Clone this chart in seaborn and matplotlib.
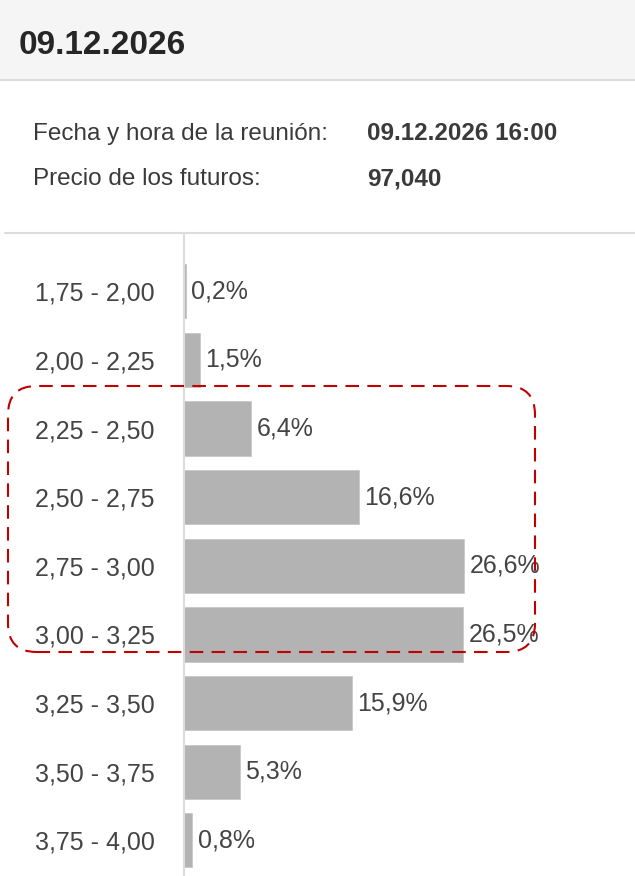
import matplotlib
matplotlib.use("Agg")
import matplotlib.pyplot as plt
import pandas as pd
import seaborn as sns
from matplotlib.patches import Rectangle, FancyBboxPatch
from matplotlib.lines import Line2D

sns.set_style("white")
plt.rcParams['font.family'] = ['Liberation Sans', 'DejaVu Sans']

# data
rangos = ['1,75 - 2,00', '2,00 - 2,25', '2,25 - 2,50', '2,50 - 2,75', '2,75 - 3,00',
          '3,00 - 3,25', '3,25 - 3,50', '3,50 - 3,75', '3,75 - 4,00']
probabilidad = [0.2, 1.5, 6.4, 16.6, 26.6, 26.5, 15.9, 5.3, 0.8]

fecha = '09.12.2026'
info_labels = ['Fecha y hora de la reunión:', 'Precio de los futuros:']
info_values = ['09.12.2026 16:00', '97,040']

W, H = 635, 876
fig = plt.figure(figsize=(W / 100, H / 100), dpi=100)

def fx(px):
    return px / W

def fy(py):
    return 1 - py / H

# header band
fig.patches.append(Rectangle((0, fy(80)), 1, 80 / H, transform=fig.transFigure,
                             facecolor='#f5f5f5', edgecolor='none', zorder=0))
fig.add_artist(Line2D([0, 1], [fy(80), fy(80)], transform=fig.transFigure,
                      color='#dcdcdc', lw=1.5))
fig.text(fx(19), fy(46), fecha, fontsize=24, fontweight='bold', color='#262626',
         va='center', ha='left')

for i, (lab, val) in enumerate(zip(info_labels, info_values)):
    y = fy(134 + 45 * i)
    fig.text(fx(33), y, lab, fontsize=17.5, color='#3a3a3a', va='center')
    fig.text(fx(367), y, val, fontsize=17.5, fontweight='bold', color='#3a3a3a', va='center')

fig.add_artist(Line2D([fx(5), 1], [fy(233), fy(233)], transform=fig.transFigure,
                      color='#dcdcdc', lw=1.5))

df = pd.DataFrame({'rango': rangos, 'prob': probabilidad})

ax = fig.add_axes([fx(184), 0, 1 - fx(184), (H - 233) / H])
sns.barplot(data=df, x='prob', y='rango', orient='h', color='#b3b3b3',
            saturation=1, width=0.79, edgecolor='#c8c8c8', linewidth=0.6, ax=ax)
ax.set_xlim(0, 42.8)
ax.set_ylim(8.52, -0.85)
ax.set_xlabel('')
ax.set_ylabel('')
ax.set_xticks([])
for s in ['top', 'right', 'bottom']:
    ax.spines[s].set_visible(False)
ax.spines['left'].set_color('#dcdcdc')
ax.spines['left'].set_linewidth(1.5)
ax.tick_params(axis='y', length=0, pad=21, labelsize=18, labelcolor='#444444')

for i, v in enumerate(probabilidad):
    ax.text(v + 0.5, i, f'{v:.1f}%'.replace('.', ','), va='center', ha='left',
            fontsize=18, color='#444444')

# dashed highlight box
box = FancyBboxPatch((fx(8), fy(652)), fx(535) - fx(8), fy(386) - fy(652),
                     boxstyle='round,pad=0,rounding_size=0.045',
                     transform=fig.transFigure, facecolor='none',
                     edgecolor='#c00000', lw=1.5, linestyle=(0, (6.5, 4)),
                     mutation_aspect=W / H, zorder=10)
fig.patches.append(box)

fig.savefig('out.png', dpi=100)
